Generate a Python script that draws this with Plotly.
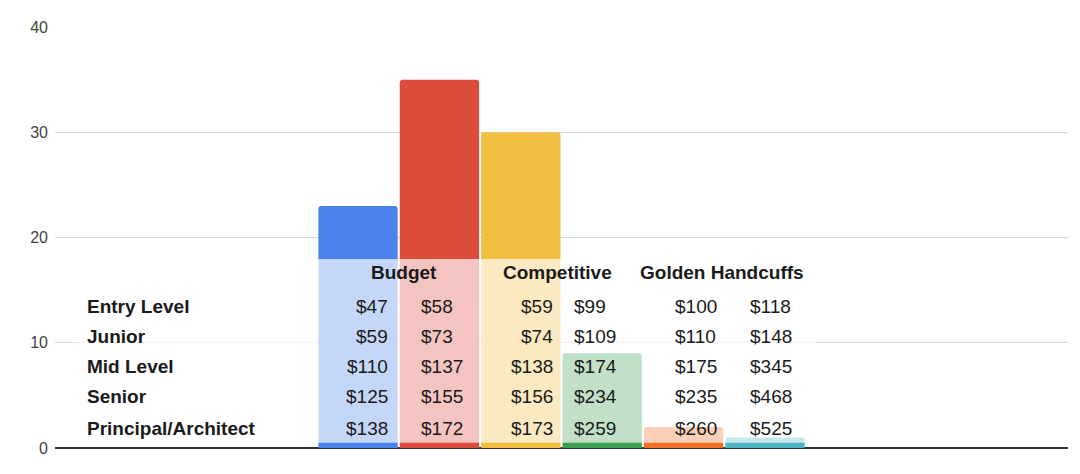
import plotly.graph_objects as go

# bar series (one category, six tiers)
tiers = ["Budget low", "Budget high", "Competitive low", "Competitive high",
         "Golden Handcuffs low", "Golden Handcuffs high"]
counts = [23, 35, 30, 9, 2, 1]
colors = ["#4c82ec", "#db4c3c", "#f1be40", "#3fa053", "#ef6f25", "#4fb5c2"]

# rate table overlaid on the chart
headers = ["Budget", "Competitive", "Golden Handcuffs"]
levels = ["Entry Level", "Junior", "Mid Level", "Senior", "Principal/Architect"]
budget_lo = ["$47", "$59", "$110", "$125", "$138"]
budget_hi = ["$58", "$73", "$137", "$155", "$172"]
comp_lo = ["$59", "$74", "$138", "$156", "$173"]
comp_hi = ["$99", "$109", "$174", "$234", "$259"]
golden_lo = ["$100", "$110", "$175", "$235", "$260"]
golden_hi = ["$118", "$148", "$345", "$468", "$525"]

FONT = "Liberation Sans, Arial, Helvetica, sans-serif"

fig = go.Figure()
for name, v, c in zip(tiers, counts, colors):
    fig.add_bar(x=[""], y=[v], name=name, marker=dict(color=c, line=dict(width=0), cornerradius=3))

# page body has an 8px margin, so the figure is sized to sit inside the window
fig.update_layout(
    width=1064, height=458, showlegend=False,
    paper_bgcolor="white", plot_bgcolor="white",
    margin=dict(l=47, r=4, t=19, b=18),
    barmode="group", bargap=0.518, bargroupgap=0.025,
    font=dict(family=FONT, size=16, color="#444"),
    xaxis=dict(showticklabels=False, showgrid=False, zeroline=False, showline=False),
    yaxis=dict(range=[0, 40], dtick=10, showgrid=True, gridcolor="#d9d9d9", gridwidth=1,
               zeroline=True, zerolinecolor="#333", zerolinewidth=1.5,
               tickfont=dict(size=16, color="#444"), ticks="", ticklabelstandoff=6),
)

# translucent white table background
fig.add_shape(type="rect", xref="paper", yref="y", x0=0.0217, x1=0.751, y0=0.5, y1=17.96,
              fillcolor="rgba(255,255,255,0.68)", line=dict(width=0), layer="above")

header_y = 16.63
row_y = [13.49, 10.55, 7.70, 4.85, 1.90]
header_x = [0.3445, 0.4956, 0.6584]
for h, hx in zip(headers, header_x):
    fig.add_annotation(x=hx, y=header_y, xref="paper", yref="y", text=f"<b>{h}</b>",
                       showarrow=False, xanchor="center", font=dict(size=19, color="#1a1a1a"))

cols = [(levels, 0.0296, "left", True),
        (budget_lo, 0.3307, "right", False),
        (budget_hi, 0.3593, "left", False),
        (comp_lo, 0.4936, "right", False),
        (comp_hi, 0.5104, "left", False),
        (golden_lo, 0.6100, "left", False),
        (golden_hi, 0.6840, "left", False)]
for vals, cx, anchor, bold in cols:
    for v, ry in zip(vals, row_y):
        fig.add_annotation(x=cx, y=ry, xref="paper", yref="y",
                           text=f"<b>{v}</b>" if bold else v, showarrow=False,
                           xanchor=anchor, font=dict(size=19, color="#1a1a1a"))

fig.write_html("out.html")
